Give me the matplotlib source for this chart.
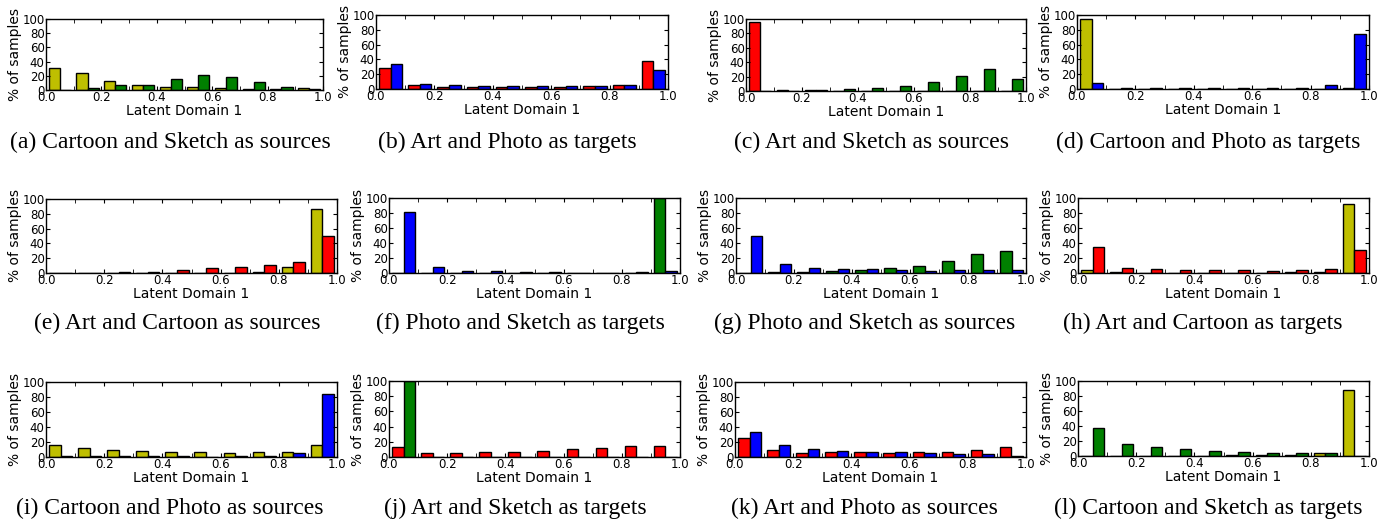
import numpy as np
from matplotlib import pyplot as plt

# bin edges of the latent domain histograms
edges = np.linspace(0, 1, 11)
centers = (edges[:-1] + edges[1:]) / 2

captions = ["(a) Cartoon and Sketch as sources", "(b) Art and Photo as targets",
            "(c) Art and Sketch as sources", "(d) Cartoon and Photo as targets",
            "(e) Art and Cartoon as sources", "(f) Photo and Sketch as targets",
            "(g) Photo and Sketch as sources", "(h) Art and Cartoon as targets",
            "(i) Cartoon and Photo as sources", "(j) Art and Sketch as targets",
            "(k) Art and Photo as sources", "(l) Cartoon and Sketch as targets"]

# % of samples per bin, two domains per panel
a1 = [30.5, 24, 13, 7, 4, 4, 2.5, 1.5, 1.5, 2.5]
a2 = [0.5, 3, 7.5, 7.5, 15.5, 21, 19, 11, 4, 1]
b1 = [28, 5.4, 3, 2.7, 2.7, 2.7, 2.7, 3.5, 5.4, 38]
b2 = [34, 6.7, 5, 4, 3.5, 3.5, 3.5, 4.5, 5.8, 26]
c1 = [96, 2, 1, 0.3, 0.2, 0.2, 0.2, 0.2, 0.2, 0.2]
c2 = [0, 0, 1, 3, 4.7, 6.5, 12.6, 21.5, 31, 17.3]
d1 = [94, 0.5, 0.3, 0.3, 0.3, 0.3, 0.3, 0.3, 0.3, 2]
d2 = [8.5, 1.3, 1, 1, 1, 1, 1, 1, 5.4, 74]
e1 = [0.2, 0.2, 0.2, 0.2, 0.2, 0.2, 0.5, 2, 7.6, 86]
e2 = [0.1, 0.2, 1.3, 1.8, 4, 6.3, 8, 11.2, 15.2, 49.8]
f1 = [0, 0, 0, 0, 0, 0, 0, 0, 0, 100]
f2 = [81, 8, 2.7, 2.2, 1.3, 0.9, 0.5, 0.5, 0.9, 2.7]
g1 = [0, 1.3, 1.3, 2.7, 4, 6.7, 9.8, 16.4, 25.3, 29.8]
g2 = [49.3, 12, 6.7, 4.9, 4.9, 4.4, 3.1, 4, 4, 4.4]
h1 = [3.5, 0.9, 0.5, 0.3, 0.3, 0.3, 0.3, 0.9, 1.3, 92]
h2 = [34.7, 7, 4.9, 4, 3.5, 3.5, 3.1, 4.4, 4.9, 30.7]
i1 = [16.6, 12, 9, 8, 6.3, 6.3, 5.4, 7.2, 7.2, 15.7]
i2 = [0.9, 0.9, 0.9, 0.9, 0.9, 0.5, 1.3, 1.8, 5.4, 84]
j1 = [12.8, 5.7, 4.8, 7, 6.6, 7.9, 10, 12.3, 15, 15]
j2 = [100, 0, 0, 0, 0, 0, 0, 0, 0, 0]
k1 = [24.7, 9.9, 5.4, 6.3, 6.7, 5.8, 7.2, 6.7, 9, 13]
k2 = [33.2, 16, 10.8, 8, 7.2, 6.3, 4.9, 4.5, 4, 1.8]
l1 = [0.3, 0.3, 0.3, 0.5, 0.3, 1.3, 0.9, 1.8, 4.4, 88]
l2 = [37.4, 16.3, 11.9, 8.8, 6.2, 5.3, 4.4, 4.4, 4.4, 0.5]

series = [(a1, a2), (b1, b2), (c1, c2), (d1, d2), (e1, e2), (f1, f2),
          (g1, g2), (h1, h2), (i1, i2), (j1, j2), (k1, k2), (l1, l2)]

# domain colours: art=red, cartoon=yellow, photo=blue, sketch=green
Y, G, R, B = (0.75, 0.75, 0), (0, 0.5, 0), (1, 0, 0), (0, 0, 1)
colors = [(Y, G), (R, B), (R, G), (Y, B), (Y, R), (G, B),
          (G, B), (Y, R), (Y, B), (R, G), (R, B), (Y, G)]

W, H = 1388, 521
fig = plt.figure(figsize=(W / 100, H / 100), dpi=100)

# axes boxes in pixels: left, top, right, bottom
boxes = [(46, 19, 323, 90), (376, 15, 668, 89), (746, 19, 1026, 91), (1077, 15, 1369, 89),
         (46, 199, 337, 273), (389, 198, 680, 273), (736, 198, 1026, 273), (1078, 198, 1369, 273),
         (46, 382, 337, 457), (389, 381, 680, 457), (735, 382, 1026, 457), (1078, 381, 1369, 456)]
cap_x = [170, 507, 872, 1208, 177, 520, 865, 1203, 170, 515, 864, 1208]
cap_y = [142, 142, 142, 142, 323, 323, 323, 323, 508, 508, 508, 508]

for n in range(12):
    l, t, r, b = boxes[n]
    ax = fig.add_axes([l / W, 1 - b / H, (r - l) / W, (b - t) / H])
    s1, s2 = series[n]
    ax.hist([centers, centers], bins=edges, weights=[s1, s2], rwidth=0.8,
            color=list(colors[n]), edgecolor='k', linewidth=1.0)
    ax.set_xlim(0, 1)
    ax.set_ylim(0, 100)
    ax.set_xticks(np.arange(0, 1.01, 0.2))
    ax.set_xticks(np.arange(0.1, 1, 0.2), minor=True)
    ax.set_yticks(np.arange(0, 101, 20))
    ax.tick_params(direction='in', top=True, right=True, labelsize=8.5, length=3, pad=1)
    ax.tick_params(which='minor', direction='in', top=True, length=3)
    for sp in ax.spines.values():
        sp.set_linewidth(1.0)
    ax.set_xlabel("Latent Domain 1", fontsize=10, labelpad=0)
    ax.set_ylabel("% of samples", fontsize=10, labelpad=0)
    fig.text(cap_x[n] / W, 1 - cap_y[n] / H, captions[n], ha='center', va='center',
             fontsize=17, family='Liberation Serif')

fig.savefig("out.png", dpi=100)
